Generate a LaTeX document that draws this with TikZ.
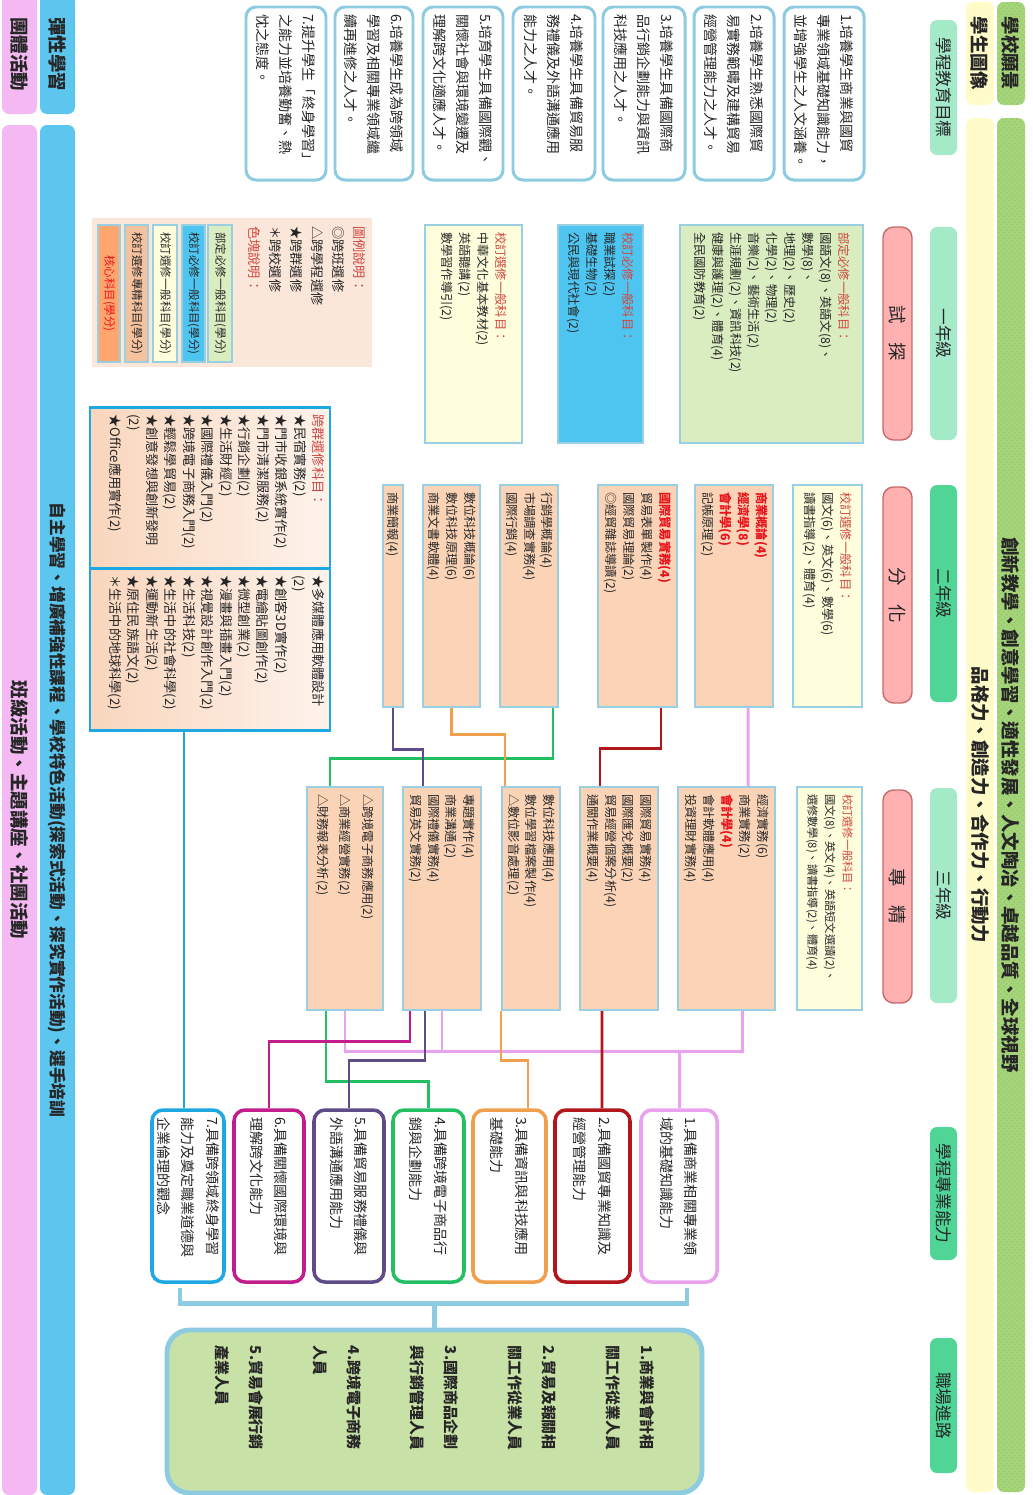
\documentclass[tikz,border=0pt]{standalone}
\usepackage{fontspec}
\setmainfont{Noto Sans CJK TC}
\usepackage{tikz}
\usetikzlibrary{calc, patterns}

\definecolor{visgreen}{HTML}{A6D47A}
\definecolor{visdot}{HTML}{93C768}
\definecolor{stuyellow}{HTML}{FFFCC9}
\definecolor{pilllight}{HTML}{A4E9C8}
\definecolor{pilldark}{HTML}{50D597}
\definecolor{pillred}{HTML}{FFB0B0}
\definecolor{pillredline}{HTML}{C66A6A}
\definecolor{goalline}{HTML}{8DCBE0}
\definecolor{boxline}{HTML}{9ACFE2}
\definecolor{y1green}{HTML}{D9EDC0}
\definecolor{y1blue}{HTML}{4EC4F0}
\definecolor{y1yellow}{HTML}{FEFEDC}
\definecolor{peach}{HTML}{FBD4B7}
\definecolor{hdred}{HTML}{D0473F}
\definecolor{corered}{HTML}{E8141B}
\definecolor{cpink}{HTML}{E8A2F0}
\definecolor{cred}{HTML}{B3151C}
\definecolor{corange}{HTML}{F0A04C}
\definecolor{cgreen}{HTML}{22BF63}
\definecolor{cpurple}{HTML}{5F4B88}
\definecolor{cmagenta}{HTML}{C21C8D}
\definecolor{cblue}{HTML}{1EA8E2}
\definecolor{legbg}{HTML}{FBE7DA}
\definecolor{legpeach}{HTML}{F5C29F}
\definecolor{legorange}{HTML}{FFA56E}
\definecolor{flexblue}{HTML}{5CC6EE}
\definecolor{grppink}{HTML}{F4B9F2}
\definecolor{careerfill}{HTML}{C8E1A6}
\definecolor{elecleft}{HTML}{F9D6BD}
\definecolor{elecright}{HTML}{FDF3EC}

\newcommand{\pxu}{0.02cm}
\newcommand{\headred}[1]{\textcolor{hdred}{#1}}
\newcommand{\corecourse}[1]{\textcolor{corered}{\bfseries #1}}

\begin{document}
\begin{tikzpicture}[x=0.02cm, y=-0.02cm, text=black!85,
  bx/.code 2 args={\pgfmathsetlengthmacro\bxtw{#1*\pxu-8pt}%
    \pgfkeysalso{minimum width={#1*\pxu}, minimum height={#2*\pxu}, text width=\bxtw}},
  rot/.style={rotate=-90, inner xsep=4pt, inner ysep=1pt, align=left},
  strip/.style={rot, align=center, rounded corners=4pt, font=\fontsize{10.5}{12}\selectfont\bfseries},
  visband/.style={strip, fill=visgreen, postaction={pattern=crosshatch dots, pattern color=visdot}},
  pill/.style={rot, align=center, rounded corners=4pt, font=\fontsize{9.5}{11}\selectfont},
  redpill/.style={pill, fill=pillred, draw=pillredline, line width=0.8pt, rounded corners=6pt, font=\fontsize{10.5}{12}\selectfont},
  goal/.style={rot, draw=goalline, line width=1.7pt, rounded corners=0.2cm, fill=white, font=\fontsize{8}{13}\selectfont},
  crs/.style={rot, draw=boxline, line width=1.2pt, fill=peach, font=\fontsize{7}{10.2}\selectfont},
  abil/.style={rot, line width=2pt, rounded corners=0.22cm, fill=white, font=\fontsize{8}{14}\selectfont},
  note/.style={rotate=-90, inner sep=0pt, align=left, anchor=north west},
  bar/.style={rot, align=center, draw=boxline, line width=1.2pt, font=\fontsize{6.5}{8}\selectfont},
  wire/.style={line width=1.7pt},
  joinline/.style={draw=goalline, line width=2.8pt},
]
\fill[white] (0,0) rectangle (1033,1495);
\useasboundingbox (0,0) rectangle (1033,1495);

% vision and student image bands
\node[visband, bx={103}{28}] (vislbl) at (1011,53.5) {學校願景};
\node[visband, bx={1374}{28}] (vis) at (1011,805) {創新教學、創意學習、適性發展、人文陶冶、卓越品質、全球視野};
\node[strip, bx={103}{28}, fill=stuyellow] (stulbl) at (980,53.5) {學生圖像};
\node[strip, bx={1374}{28}, fill=stuyellow] (stu) at (980,805) {品格力、創造力、合作力、行動力};

% headings
\node[pill, bx={135}{27}, fill=pilllight] (pgoal) at (943.5,87.5) {學程教育目標};
\node[pill, bx={213}{27}, fill=pilllight] (py1) at (943.5,333.5) {一年級};
\node[pill, bx={217}{27}, fill=pilldark] (py2) at (943.5,593.5) {二年級};
\node[pill, bx={215}{27}, fill=pilllight] (py3) at (943.5,895.5) {三年級};
\node[pill, bx={133}{27}, fill=pilldark] (pabil) at (943.5,1193.5) {學程專業能力};
\node[pill, bx={135}{27}, fill=pilldark] (pcar) at (943.5,1405.5) {職場進路};
\node[redpill, bx={213}{29}] (rs1) at (897.5,333.5) {試　探};
\node[redpill, bx={216}{29}] (rs2) at (897.5,595) {分　化};
\node[redpill, bx={213}{29}] (rs3) at (897.5,896.5) {專　精};

% educational goals
\node[goal, bx={173}{80}] (g1) at (824,93.5) {1.培養學生商業與國貿\\專業領域基礎知識能力，\\並增強學生之人文涵養。};
\node[goal, bx={173}{80}] (g2) at (734,93.5) {2.培養學生熟悉國際貿\\易實務範疇及建構貿易\\經營管理能力之人才。};
\node[goal, bx={173}{82}] (g3) at (644,93.5) {3.培養學生具備國際商\\品行銷企劃能力與資訊\\科技應用之人才。};
\node[goal, bx={173}{82}] (g4) at (554,93.5) {4.培養學生具備貿易服\\務禮儀及外語溝通應用\\能力之人才。};
\node[goal, bx={173}{80}] (g5) at (463,93.5) {5.培育學生具備國際觀、\\關懷社會與環境變遷及\\理解跨文化適應人才。};
\node[goal, bx={173}{78}] (g6) at (374,93.5) {6.培養學生成為跨領域\\學習及相關專業領域繼\\續再進修之人才。};
\node[goal, bx={173}{80}] (g7) at (286,93.5) {7.提升學生「終身學習」\\之能力並培養勤奮、熱\\忱之態度。};

% first year
\node[crs, bx={218}{183}, fill=y1green] (y1g) at (771.5,334) {\headred{部定必修一般科目：}\\國語文(8)、英語文(8)、\\數學(8)、\\地理(2)、歷史(2)\\化學(2)、物理(2)\\音樂(2)、藝術生活(2)\\生涯規劃(2)、資訊科技(2)\\健康與護理(2)、體育(4)\\全民國防教育(2)};
\node[crs, bx={218}{85}, fill=y1blue] (y1b) at (600.5,334) {\headred{校訂必修一般科目：}\\職業試探(2)\\基礎生物(2)\\公民與現代社會(2)};
\node[crs, bx={218}{97}, fill=y1yellow] (y1y) at (473.5,334) {\headred{校訂選修一般科目：}\\中華文化基本教材(2)\\英語聽講(2)\\數學習作導引(2)};

% legend
\node[fill=legbg, minimum width={280*\pxu}, minimum height={149*\pxu}] (leg) at (232,292.5) {};
\node[note, text width=2.6cm, font=\fontsize{7.5}{12}\selectfont] (legt) at (366,226) {\headred{圖例說明：}\\◎跨班選修\\△跨學程選修\\★跨群選修\\＊跨校選修\\\headred{色塊說明：}};
\node[bar, bx={137}{24}, fill=y1green] (lg1) at (220,293.5) {部定必修一般科目(學分)};
\node[bar, bx={137}{23}, fill=y1blue] (lg2) at (193.5,293.5) {校訂必修一般科目(學分)};
\node[bar, bx={137}{24}, fill=y1yellow] (lg3) at (165,293.5) {校訂選修一般科目(學分)};
\node[bar, bx={137}{23}, fill=legpeach] (lg4) at (136.5,293.5) {校訂選修專精科目(學分)};
\node[bar, bx={137}{22}, fill=legorange, text=corered] (lg5) at (109,293.5) {核心科目(學分)};

% second year
\node[crs, bx={222}{69}, fill=y1yellow] (y2y) at (827.5,596) {\headred{校訂選修一般科目：}\\國文(6)、英文(6)、數學(6)\\讀書指導(2)、體育(4)};
\node[crs, bx={222}{78}] (y2a) at (734,596) {\corecourse{商業概論(4)}\\\corecourse{經濟學(8)}\\\corecourse{會計學(6)}\\記帳原理(2)};
\node[crs, bx={222}{79}] (y2b) at (637.5,596) {\corecourse{國際貿易實務(4)}\\貿易表單製作(4)\\國際貿易理論(2)\\◎經貿雜誌導讀(2)};
\node[crs, bx={222}{58}] (y2c) at (529,596) {行銷學概論(4)\\市場調查實務(4)\\國際行銷(4)};
\node[crs, bx={222}{57}] (y2d) at (451.5,596) {數位科技概論(6)\\數位科技原理(6)\\商業文書軟體(4)};
\node[crs, bx={222}{20}] (y2e) at (393,596) {商業簡報(4)};

% cross-group electives
\node[draw=cblue, line width=1.7pt, left color=elecleft, right color=elecright,
      minimum width={240*\pxu}, minimum height={323*\pxu}] (elec) at (210,568.5) {};
\draw[cblue, line width=1.7pt] (elec.west) -- (elec.east);
\node[note, text width=3cm, font=\fontsize{7.5}{10.5}\selectfont] (elc1) at (325,414) {\headred{跨群選修科目：}\\★民宿實務(2)\\★門市收銀系統實作(2)\\★門市清潔服務(2)\\★行銷企劃(2)\\★生活財經(2)\\★國際禮儀入門(2)\\★跨境電子商務入門(2)\\★輕鬆學貿易(2)\\★創意發想與創新發明\\(2)\\★Office應用實作(2)};
\node[note, text width=3cm, font=\fontsize{7.5}{10.5}\selectfont] (elc2) at (325,575) {★多媒體應用軟體設計\\(2)\\★創客3D實作(2)\\★電繪貼圖創作(2)\\★微型創業(2)\\★漫畫與插畫入門(2)\\★視覺設計創作入門(2)\\★生活科技(2)\\★生活中的社會科學(2)\\★運動新生活(2)\\★原住民族語文(2)\\＊生活中的地球科學(2)};

% third year
\node[crs, bx={223}{65}, fill=y1yellow, font=\fontsize{6.4}{10}\selectfont] (y3y) at (829.5,898.5) {\headred{校訂選修一般科目：}\\國文(8)、英文(4)、英語短文選讀(2)、\\選修數學(8)、讀書指導(2)、體育(4)};
\node[crs, bx={223}{97}] (y3a) at (726.5,898.5) {經濟實務(6)\\商業實務(2)\\\corecourse{會計學(4)}\\會計軟體應用(4)\\投資理財實務(4)};
\node[crs, bx={223}{78}] (y3b) at (619,898.5) {國際貿易實務(4)\\國際匯兌概要(2)\\貿易經營個案分析(4)\\通關作業概要(4)};
\node[crs, bx={223}{58}] (y3c) at (531,898.5) {數位科技應用(4)\\數位學習檔案製作(4)\\△數位影音處理(2)};
\node[crs, bx={223}{78}] (y3d) at (442,898.5) {專題實作(4)\\商業溝通(2)\\國際禮儀實務(4)\\貿易英文實務(2)};
\node[crs, bx={223}{76}, font=\fontsize{7}{13}\selectfont] (y3e) at (345,898.5) {△跨境電子商務應用(2)\\△商業經營實務(2)\\△財務報表分析(2)};

% professional abilities
\node[abil, bx={172}{76}, draw=cpink] (ab1) at (679,1196) {1.具備商業相關專業領\\域的基礎知識能力};
\node[abil, bx={172}{75}, draw=cred] (ab2) at (592.5,1196) {2.具備國貿專業知識及\\經營管理能力};
\node[abil, bx={172}{73}, draw=corange] (ab3) at (509.5,1196) {3.具備資訊與科技應用\\基礎能力};
\node[abil, bx={172}{71}, draw=cgreen] (ab4) at (428.5,1196) {4.具備跨境電子商品行\\銷與企劃能力};
\node[abil, bx={172}{70}, draw=cpurple] (ab5) at (349,1196) {5.具備貿易服務禮儀與\\外語溝通應用能力};
\node[abil, bx={172}{70}, draw=cmagenta] (ab6) at (269,1196) {6.具備關懷國際環境與\\理解跨文化能力};
\node[abil, bx={172}{72}, draw=cblue] (ab7) at (188,1196) {7.具備跨領域終身學習\\能力及奠定職業道德與\\企業倫理的觀念};

% career paths
\node[draw=goalline, line width=2.8pt, rounded corners=0.45cm, fill=careerfill,
      minimum width={535*\pxu}, minimum height={163*\pxu}] (car) at (434.5,1411.5) {};
\node[note, anchor=west, text width=2.3cm, font=\fontsize{8.5}{19.3}\selectfont\bfseries] (cart) at ($(car.north)+(0,18)$) {1.商業與會計相\\關工作從業人員\\[17pt]2.貿易及報關相\\關工作從業人員\\[17pt]3.國際商品企劃\\與行銷管理人員\\[17pt]4.跨境電子商務\\人員\\[17pt]5.貿易會展行銷\\產業人員};

% flexible learning and group activities
\node[strip, bx={120}{35}, fill=flexblue] (flexlbl) at (57.5,54) {彈性學習};
\node[strip, bx={1370}{35}, fill=flexblue, font=\fontsize{9.5}{11}\selectfont\bfseries] (flex) at (57.5,810) {自主學習、增廣補強性課程、學校特色活動(探索式活動、探究實作活動)、選手培訓};
\node[strip, bx={120}{35}, fill=grppink] (grplbl) at (19.5,54) {團體活動};
\node[strip, bx={1370}{35}, fill=grppink] (grp) at (19.5,810) {班級活動、主題講座、社團活動};

% year 2 -> year 3
\draw[wire, cpink] (y2a.east) ++(14,0) -- ($(y3a.west)+(21.5,0)$);
\draw[wire, cred] (y2b.east) ++(23.5,0) -- ++(0,40) -| ($(y3b.west)+(-19,0)$);
\draw[wire, cgreen] (y2c.east) ++(24,0) -- ++(0,50) -| ($(y3e.west)+(-15,0)$);
\draw[wire, corange] (y2d.east) -- ++(0,26) -| ($(y3c.west)+(-26,0)$);
\draw[wire, cpurple] (y2e.east) -- ++(0,41) -| ($(y3d.west)+(-19,0)$);

% year 3 -> abilities
\coordinate (pkj) at (679,1051);
\draw[wire, cpink] (y3a.east) ++(15.5,0) |- (pkj) -- (ab1.west);
\draw[wire, cpink] (y3e.east) |- (pkj);
\draw[wire, cpink] (y3d.east) -- (y3d.east |- pkj);
\draw[wire, cred] (y3b.east) ++(-17,0) -- ($(ab2.west)+(9.5,0)$);
\draw[wire, corange] (y3c.east) ++(-30,0) -- ++(0,49) -| ($(ab3.west)+(18.5,0)$);
\draw[wire, cgreen] (y3e.east) ++(-19,0) -- ++(0,70) -| (ab4.west);
\draw[wire, cpurple] (y3d.east) ++(-17,0) -- ++(0,49) -| (ab5.west);
\draw[wire, cmagenta] (y3d.east) ++(-32,0) -- ++(0,30) -| (ab6.west);
\draw[wire, cblue] (elec.south) ++(-26,0) -- ($(ab7.west)+(-4,0)$);

% abilities -> career
\coordinate (brl) at (180,1288);
\coordinate (brr) at (687,1288);
\coordinate (brm) at ($(car.north)+(0,-24)$);
\draw[joinline] (brl) |- (brm) -| (brr);
\draw[joinline] (brm) -- (car.north);

\end{tikzpicture}
\end{document}
